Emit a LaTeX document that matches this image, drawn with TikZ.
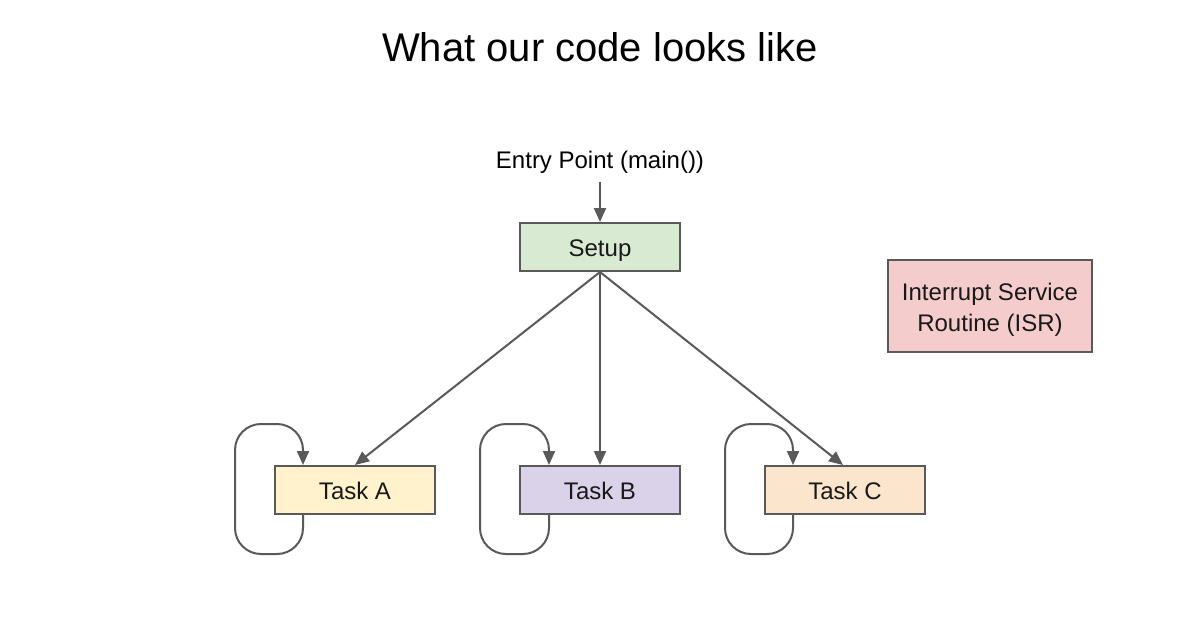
\documentclass[tikz,border=0pt]{standalone}
\usepackage{fontspec}
\setmainfont{Liberation Sans}
\usetikzlibrary{arrows.meta}
\definecolor{edgegray}{HTML}{595959}
\definecolor{setupfill}{HTML}{D9EAD3}
\definecolor{afill}{HTML}{FFF2CC}
\definecolor{bfill}{HTML}{D9D2E9}
\definecolor{cfill}{HTML}{FCE5CD}
\definecolor{isrfill}{HTML}{F4CCCC}
\tikzset{
  box/.style={draw=edgegray, line width=1pt, minimum width=80pt, minimum height=24pt, inner sep=0pt, font=\fontsize{12}{15.5}\selectfont, text=black!90},
  onebox/.style={box, text height=11.6pt, text depth=2.4pt},
  conn/.style={draw=edgegray, line width=1pt, -{Triangle[length=7pt,width=6pt]}},
  loopconn/.style={conn, rounded corners=13pt},
}
\begin{document}
\begin{tikzpicture}[x=0.5pt,y=-0.5pt]
\useasboundingbox (0,0) rectangle (1200,628);
\fill[white] (0,0) rectangle (1200,628);
\node[font=\fontsize{20}{24}\selectfont] (title) at (600,47) {What our code looks like};
\node[font=\fontsize{12}{14}\selectfont, inner sep=1pt] (entry) at (600,162) {Entry Point (main())};
\node[onebox, fill=setupfill] (setup) at (600,247) {Setup};
\node[onebox, fill=afill] (ta) at (355,490) {Task A};
\node[onebox, fill=bfill] (tb) at (600,490) {Task B};
\node[onebox, fill=cfill] (tc) at (845,490) {Task C};
\node[box, fill=isrfill, minimum width=102pt, minimum height=46pt] (isr) at (990,306) {\raisebox{-2pt}[\height][\depth]{\begin{tabular}{@{}c@{}}Interrupt Service\\Routine (ISR)\end{tabular}}};
\draw[conn] ([yshift=-3pt]entry.south) -- (setup.north);
\draw[conn] (setup.south) -- (ta.north);
\draw[conn] (setup.south) -- (tb.north);
\draw[conn] (setup.south) -- ([xshift=-1pt]tc.north);
% self loops
\draw[loopconn] ([xshift=-26pt]ta.south) -- ++(0,39) -- ++(-68,0) -- ++(0,-130) -- ++(68,0) -- ([xshift=-26pt]ta.north);
\draw[loopconn] ([xshift=-25.5pt]tb.south) -- ++(0,39) -- ++(-69,0) -- ++(0,-130) -- ++(69,0) -- ([xshift=-25.5pt]tb.north);
\draw[loopconn] ([xshift=-26pt]tc.south) -- ++(0,39) -- ++(-68,0) -- ++(0,-130) -- ++(68,0) -- ([xshift=-26pt]tc.north);
\end{tikzpicture}
\end{document}
